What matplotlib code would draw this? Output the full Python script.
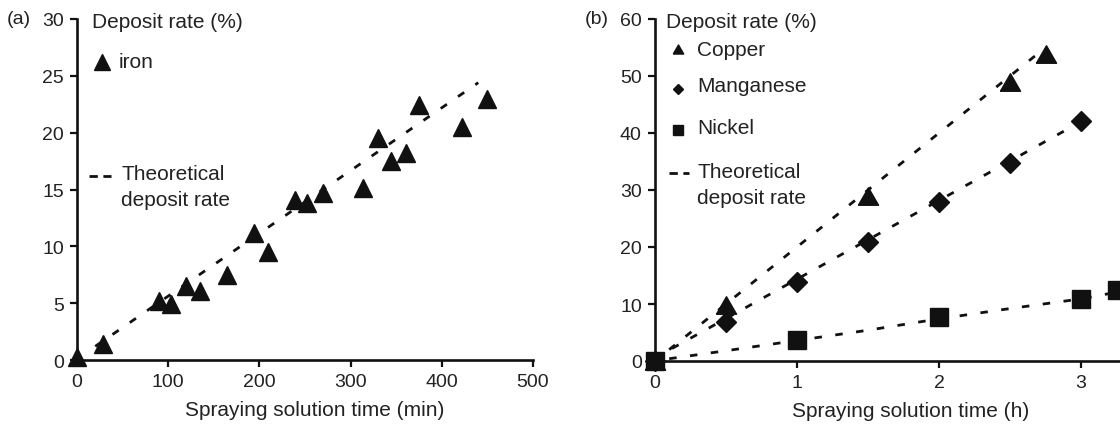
import matplotlib
matplotlib.use('Agg')
import matplotlib.pyplot as plt
from matplotlib.lines import Line2D

plt.rcParams['font.family'] = ['Liberation Sans', 'DejaVu Sans']

# ---- data: panel (a) iron ----
iron_t = [0, 29, 90, 103, 119, 135, 164, 194, 209, 239, 252, 270, 314, 330, 344, 361, 375, 422, 450]
iron_rate = [0.3, 1.4, 5.2, 4.9, 6.5, 6.1, 7.5, 11.2, 9.5, 14.1, 13.8, 14.7, 15.1, 19.5, 17.5, 18.2, 22.4, 20.5, 23.0]
iron_theory_t = [20, 440]
iron_theory_rate = [1.2, 24.4]

# ---- data: panel (b) ----
cu_t = [0, 0.5, 1.5, 2.5, 2.75]
cu_rate = [0, 9.8, 29.0, 48.9, 53.9]
mn_t = [0, 0.5, 1.0, 1.5, 2.0, 2.5, 3.0]
mn_rate = [0, 6.8, 13.8, 20.8, 27.9, 34.8, 42.1]
ni_t = [0, 1.0, 2.0, 3.0, 3.25]
ni_rate = [0, 3.7, 7.8, 10.9, 12.5]

cu_theory_t = [0.1, 2.72]
cu_theory_rate = [2.0, 54.4]
mn_theory_t = [0.12, 2.9]
mn_theory_rate = [2.2, 40.6]
ni_theory_t = [0.1, 0.5, 1.0, 1.5, 2.0, 2.5, 3.0, 3.3]
ni_theory_rate = [0.4, 1.8, 3.6, 5.4, 7.4, 9.2, 10.9, 12.3]

a_xticks = [0, 100, 200, 300, 400, 500]
a_yticks = [0, 5, 10, 15, 20, 25, 30]
b_xticks = [0, 1, 2, 3]
b_yticks = [0, 10, 20, 30, 40, 50, 60]

W, H = 1120, 427
FS = 15
TFS = 14
INK = '#111111'
TXT = '#222222'
DASH = (2.7, 4.85)
LW = 2.0

fig = plt.figure(figsize=(W / 100, H / 100), dpi=100)

def fx(px):
    return px / W

def fy(py):
    return 1 - py / H

tri_b = [(-1, -0.87), (1, -0.87), (0, 0.87), (-1, -0.87)]

def style_axes(ax):
    for s in ['top', 'right']:
        ax.spines[s].set_visible(False)
    for s in ['left', 'bottom']:
        ax.spines[s].set_linewidth(1.9)
        ax.spines[s].set_color(INK)
    ax.tick_params(direction='out', length=5, width=1.6, colors=INK,
                   labelsize=TFS, labelcolor=TXT, pad=4.5)

# ---- panel (a) ----
axA = fig.add_axes([fx(77), fy(361), fx(533) - fx(77), fy(20) - fy(361)])
axA.plot(iron_theory_t, iron_theory_rate, color=INK, lw=LW, dashes=DASH)
axA.plot(iron_t, iron_rate, linestyle='none', marker='^', ms=13, color=INK,
         clip_on=False, zorder=5)
axA.set_xlim(0, 500)
axA.set_ylim(0, 30)
axA.set_xticks(a_xticks)
axA.set_yticks(a_yticks)
style_axes(axA)
axA.set_xlabel('Spraying solution time (min)', fontsize=FS, color=TXT, labelpad=7)
axA.xaxis.label.set_x(0.522)

# ---- panel (b) ----
axB = fig.add_axes([fx(655), fy(362), fx(655 + 3.6 * 142) - fx(655), fy(20) - fy(362)])
axB.plot(cu_theory_t, cu_theory_rate, color=INK, lw=LW, dashes=DASH)
axB.plot(mn_theory_t, mn_theory_rate, color=INK, lw=LW, dashes=DASH)
axB.plot(ni_theory_t, ni_theory_rate, color=INK, lw=LW, dashes=DASH)
axB.plot(cu_t, cu_rate, linestyle='none', marker=tri_b, ms=14.5, color=INK,
         clip_on=False, zorder=5)
axB.plot(mn_t, mn_rate, linestyle='none', marker='D', ms=9.8, color=INK,
         clip_on=False, zorder=5)
axB.plot(ni_t, ni_rate, linestyle='none', marker='s', ms=12.5, color=INK,
         clip_on=False, zorder=6)
axB.set_xlim(0, 3.6)
axB.set_ylim(0, 60)
axB.set_xticks(b_xticks)
axB.set_yticks(b_yticks)
style_axes(axB)
axB.set_xlabel('Spraying solution time (h)', fontsize=FS, color=TXT, labelpad=7)

# ---- annotations / legends ----
def txt(px, py, s, ha='left', size=FS):
    fig.text(fx(px), fy(py), s, fontsize=size, color=TXT, ha=ha, va='center')

def mark(px, py, **kw):
    fig.add_artist(Line2D([fx(px)], [fy(py)], transform=fig.transFigure,
                          linestyle='none', color=INK, **kw))

def dash(px0, px1, py):
    fig.add_artist(Line2D([fx(px0), fx(px1)], [fy(py), fy(py)],
                          transform=fig.transFigure, color=INK, lw=LW,
                          dashes=(3.0, 2.0)))

# panel (a)
txt(7, 20, '(a)', size=TFS)
txt(92, 23, 'Deposit rate (%)')
mark(102, 63, marker='^', ms=12)
txt(119, 63, 'iron')
dash(89, 111, 177)
txt(121, 175, 'Theoretical')
txt(121, 200, 'deposit rate')

# panel (b)
txt(585, 20, '(b)', size=TFS)
txt(666, 23, 'Deposit rate (%)')
mark(678, 50, marker=tri_b, ms=7.5)
txt(697, 50, 'Copper')
mark(678, 90, marker='D', ms=5.5)
txt(697, 87, 'Manganese')
mark(678, 131, marker='s', ms=6.5)
txt(697, 128, 'Nickel')
dash(669, 689, 174)
txt(697, 173, 'Theoretical')
txt(697, 198, 'deposit rate')

fig.savefig('out.png', dpi=100)
